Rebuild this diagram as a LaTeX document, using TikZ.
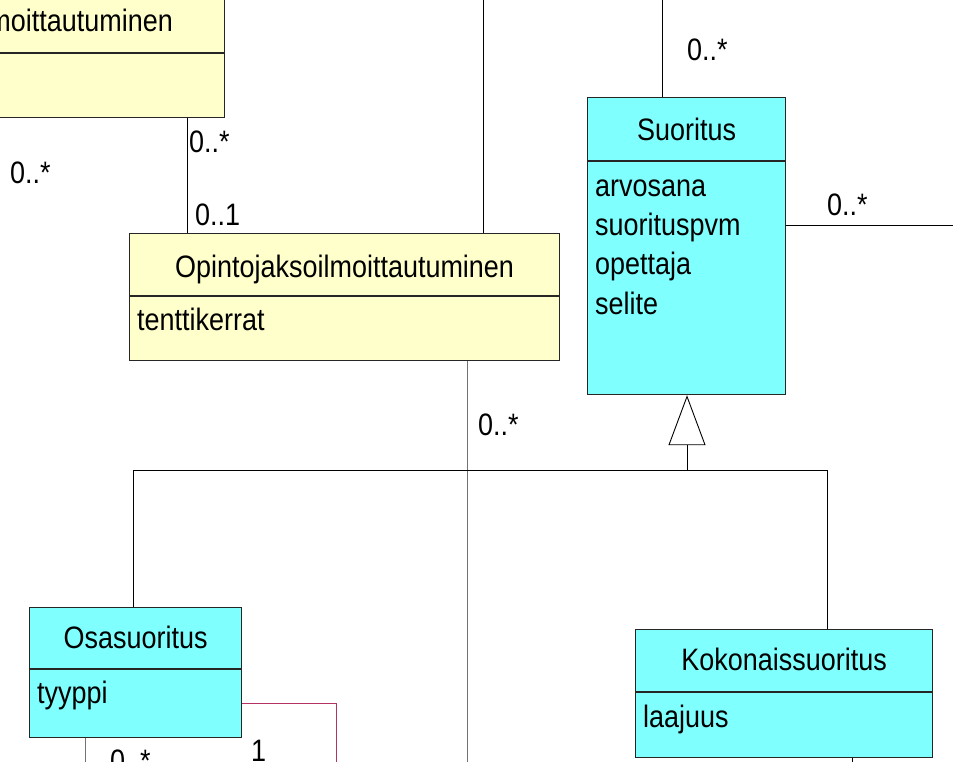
\documentclass[tikz,border=0pt]{standalone}
\usepackage{fontspec}
\setmainfont[FakeStretch=0.87]{Liberation Sans}
\usetikzlibrary{arrows.meta,calc}
\definecolor{classyellow}{RGB}{255,255,204}
\definecolor{classcyan}{RGB}{128,255,255}
\definecolor{linkred}{RGB}{180,50,100}
\newcommand{\umlfont}{\fontsize{31}{37}\selectfont}
% #1 name, #2 #3 top left corner, #4 width, #5 height, #6 fill, #7 divider offset
\newcommand{\umlclass}[7]{%
  \node[classbox,fill=#6,minimum width=#4,minimum height=#5] (#1) at (#2,#3) {};
  \draw[classline] ($(#1.north west)+(0,#7)$) -- ($(#1.north east)+(0,#7)$);
}
\tikzset{
  classbox/.style={draw=black!85,line width=1.2pt,inner sep=0pt,anchor=north west},
  classline/.style={draw=black!85,line width=1.2pt},
  assoc/.style={line width=0.9pt},
  greyassoc/.style={line width=1pt,draw=black!55},
  redassoc/.style={line width=1pt,draw=linkred},
  gen/.style={line width=0.9pt,-{Triangle[open,length=50pt,width=37pt]}},
  mult/.style={anchor=base west,inner sep=0pt},
  attr/.style={anchor=base west,inner sep=0pt},
  title/.style={anchor=base,inner sep=0pt}
}

\begin{document}
\begin{tikzpicture}[x=1pt,y=-1pt,every node/.style={font=\umlfont}]
  \clip (0,0) rectangle (953,761);
  \umlclass{ilmo}{-80}{-40}{304}{157}{classyellow}{93}
  \umlclass{opinto}{129}{233}{430}{127}{classyellow}{63}
  \umlclass{suor}{587}{97}{198}{297}{classcyan}{64}
  \umlclass{osa}{29}{607}{212}{130}{classcyan}{62}
  \umlclass{koko}{635}{629}{297}{128}{classcyan}{63}

  \node[title,anchor=base east] (ilmotitle) at (173,31) {moittautuminen};
  \node[title] (opintotitle) at ($(opinto.north)+(0,44)$) {Opintojaksoilmoittautuminen};
  \node[attr] (opintoattr) at ($(opinto.north west)+(8,97)$) {tenttikerrat};
  \node[title] (suortitle) at ($(suor.north)+(0,43)$) {Suoritus};
  \foreach \a [count=\i] in {arvosana,suorituspvm,opettaja,selite}
    \node[attr] (suorattr\i) at ($(suor.north west)+(8,60+39.3*\i)$) {\a};
  \node[title] (osatitle) at ($(osa.north)+(0,41)$) {Osasuoritus};
  \node[attr] (osaattr) at ($(osa.north west)+(8,96)$) {tyyppi};
  \node[title] (kokotitle) at ($(koko.north)+(0,41)$) {Kokonaissuoritus};
  \node[attr] (kokoattr) at ($(koko.north west)+(8,98)$) {laajuus};

  % associations
  \coordinate (ilmolink) at (187,0);
  \coordinate (opintotop) at (483,-5);
  \coordinate (suortop) at (662,-5);
  \coordinate (suorright) at (960,0);
  \coordinate (opintodown) at (467,770);
  \coordinate (redturn) at (336,703);
  \coordinate (redend) at (336,770);
  \coordinate (osadown) at (85,770);
  \coordinate (kokodown) at (852,770);
  \draw[assoc] (ilmolink |- ilmo.south) -- (ilmolink |- opinto.north);
  \draw[assoc] (opintotop) -- (opintotop |- opinto.north);
  \draw[assoc] (suortop) -- (suortop |- suor.north);
  \draw[assoc] (suor.east |- 0,225) -- (suorright |- 0,225);
  \draw[greyassoc] (opintodown |- opinto.south) -- (opintodown);
  \draw[redassoc] (redturn -| osa.east) -- (redturn) -- (redend);
  \draw[greyassoc] (osadown |- osa.south) -- (osadown);
  \draw[assoc] (kokodown |- koko.south) -- (kokodown);

  % generalization
  \coordinate (genjoint) at (687,470);
  \coordinate (osajoint) at (133,470);
  \coordinate (kokojoint) at (827,470);
  \draw[gen] (genjoint) -- (genjoint |- suor.south);
  \draw[assoc] (osajoint |- osa.north) -- (osajoint) -- (kokojoint) -- (kokojoint |- koko.north);

  \foreach \x/\y/\m [count=\i] in {189/152/{0..*},10/183/{0..*},195/225/{0..1},
      687/60/{0..*},827/215/{0..*},478/435/{0..*},251/761/{1},110/771/{0..*}}
    \node[mult] (mult\i) at (\x,\y) {\m};
\end{tikzpicture}
\end{document}
